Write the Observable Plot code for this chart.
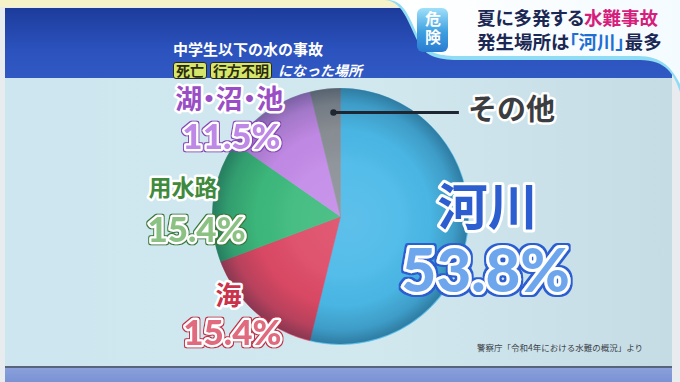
<!DOCTYPE html>
<html><head><meta charset="utf-8">
<script src="https://cdn.jsdelivr.net/npm/d3@7"></script>
<script src="https://cdn.jsdelivr.net/npm/@observablehq/plot@0.6"></script>
<style>
html,body{margin:0;padding:0;width:680px;height:382px;overflow:hidden;background:#eef0f2;font-family:"Noto Sans CJK JP","Noto Sans",sans-serif;}
#stage{position:relative;width:680px;height:382px;overflow:hidden;}
.abs{position:absolute;}
#topstrip{left:0;top:0;width:680px;height:7px;background:#f7f3c9;}
#frame{left:0;top:7px;width:680px;height:375px;background:#e9ecef;}
#band{left:5px;top:8px;width:667px;height:70px;background:linear-gradient(#1d3c9c,#2b52bd 60%,#3159c4);}
#panel{left:5px;top:78px;width:667px;height:288px;background:linear-gradient(90deg,#cde6ef,#d2e8ef 55%,#c6dce5);}
#botline{left:5px;top:366px;width:667px;height:2px;background:#56657c;}
#botband{left:5px;top:368px;width:667px;height:14px;background:linear-gradient(#8aa0dc,#7a92d4);}
#glow{left:378px;top:0;width:302px;height:92px;background:#8fdcf5;clip-path:path('M 6 0 C 24 0 30 22 40 42 C 48 58 62 60 84 60 L 262 60 C 288 60 296 74 302 92 L 302 0 Z');}
#banner{left:380px;top:0;width:300px;height:86px;background:linear-gradient(90deg,#ffffff,#f4fbff);clip-path:path('M 8 0 C 25 0 30 20 40 40 C 48 54 60 56 80 56 L 258 56 C 282 56 292 68 300 84 L 300 0 Z');}
#kiken{left:417px;top:8px;width:31px;height:44px;border-radius:6px;background:linear-gradient(#9fe0fa,#3d9fe0 55%,#2a7bd0);}
#kikentxt{left:417px;top:11px;width:31px;height:40px;color:#fff;font-weight:700;font-size:16px;line-height:31px;writing-mode:vertical-rl;text-orientation:upright;letter-spacing:2px;}
.ttl{left:477px;font-weight:700;font-size:18.5px;color:#1b2853;white-space:nowrap;font-feature-settings:"palt";}
#t1{top:4px;}
#t2{top:28px;}
.mag{color:#d61f7c;}
.blu{color:#1f6ed2;}
#sub1{left:173px;top:38px;font-weight:700;font-size:15px;color:#fff;white-space:nowrap;}
#sub2{left:173px;top:60px;font-size:14px;color:#fff;white-space:nowrap;display:flex;gap:3px;align-items:center;}
.tag{background:#d5e66a;border:1px solid #2a2a20;border-radius:3px;color:#2a2a10;font-weight:700;padding:0 2px;line-height:15px;}
.ital{font-style:italic;font-weight:700;margin-left:3px;}
#src{left:477px;top:341px;font-size:8.5px;color:#3a3f47;white-space:nowrap;}
#plotwrap{left:0;top:0;}
</style></head>
<body>
<div id="stage">
  <div class="abs" id="frame"></div>
  <div class="abs" id="topstrip"></div>
  <div class="abs" id="band"></div>
  <div class="abs" id="panel"></div>
  <div class="abs" id="botline"></div>
  <div class="abs" id="botband"></div>
  <div class="abs" id="glow"></div>
  <div class="abs" id="banner"></div>
  <div class="abs" id="kiken"></div>
  <div class="abs" id="kikentxt">危険</div>
  <div class="abs ttl" id="t1">夏に多発する<span class="mag">水難事故</span></div>
  <div class="abs ttl" id="t2">発生場所は<span class="blu">「河川」</span>最多</div>
  <div class="abs" id="sub1">中学生以下の水の事故</div>
  <div class="abs" id="sub2"><span class="tag">死亡</span><span class="tag">行方不明</span><span class="ital">になった場所</span></div>
  <div class="abs" id="src">警察庁「令和4年における水難の概況」より</div>
  <div class="abs" id="plotwrap"></div>
</div>
<script>
// ---- data ----
const categories = ["河川", "海", "用水路", "湖・沼・池", "その他"];
const shares = [53.8, 15.4, 15.4, 11.5, 3.8];
const percentLabels = ["53.8%", "15.4%", "15.4%", "11.5%", ""];

// ---- styles ----
const sliceColors = ["#4bb9e8", "#dd4a66", "#3dba7d", "#c38be8", "#8b9097"];
const nameColors = ["#2c5ed0", "#c9344c", "#3f8a3c", "#9a4ec6", "#3b3d40"];
const pctOuter = ["#2a5ed2", "#c22e48", "#367a34", "#8a42ba", ""];
const pctInner = ["#6ea6ee", "#e06a7e", "#8cc184", "#be88e6", ""];

// ---- layout (in pie-radius units) ----
const nameLayout = [
  {x: 1.15, y: 0.06, size: 50, palt: false},
  {x: -0.875, y: -0.625, size: 26, palt: false},
  {x: -1.23, y: 0.22, size: 23, palt: false},
  {x: -0.87, y: 0.905, size: 27, palt: true},
  {x: 1.335, y: 0.83, size: 29, palt: false}
];
const pctLayout = [
  {x: 1.135, y: -0.44, size: 60, white: 6, outer: 2},
  {x: -0.845, y: -0.915, size: 35, white: 4.5, outer: 1.4},
  {x: -1.125, y: -0.11, size: 35, white: 4.5, outer: 1.4},
  {x: -0.852, y: 0.617, size: 35, white: 4.5, outer: 1.4},
  null
];
const leader = {x1: -0.055, y1: 0.8125, x2: 0.925};

// ---- slices from d3.pie angles ----
const arcs = d3.pie().sort(null).value(d => d)(shares);
const pts = [];
arcs.forEach((a, i) => {
  const n = Math.max(2, Math.ceil((a.endAngle - a.startAngle) / (Math.PI / 180)));
  pts.push({cat: categories[i], x: 0, y: 0});
  for (let k = 0; k <= n; k++) {
    const t = a.startAngle + (a.endAngle - a.startAngle) * k / n;
    pts.push({cat: categories[i], x: Math.sin(t), y: Math.cos(t)});
  }
  pts.push({cat: categories[i], x: 0, y: 0});
});

const font = "Noto Sans CJK JP, Noto Sans, sans-serif";
const numFont = "Lato, Noto Sans CJK JP, sans-serif";

const shade = (index, scales) => {
  const xs = scales.x, ys = scales.y;
  const cx = xs(0), cy = ys(0), r = Math.abs(xs(1) - xs(0));
  const g = d3.create("svg:g");
  const defs = g.append("defs");
  const rg = defs.append("radialGradient")
    .attr("id", "pieShade").attr("gradientUnits", "userSpaceOnUse")
    .attr("cx", cx).attr("cy", cy).attr("r", r)
    .attr("fx", cx + r * 0.08).attr("fy", cy + r * 0.05);
  [[0, "#ffffff", 0.10], [0.45, "#ffffff", 0.05], [0.68, "#000000", 0.02], [0.88, "#001830", 0.17], [1, "#001830", 0.38]]
    .forEach(([o, c, op]) => rg.append("stop").attr("offset", o).attr("stop-color", c).attr("stop-opacity", op));
  pctOuter.forEach((c, i) => {
    if (!c) return;
    const f = defs.append("filter").attr("id", "ol" + i)
      .attr("x", "-20%").attr("y", "-30%").attr("width", "140%").attr("height", "160%");
    f.append("feMorphology").attr("in", "SourceAlpha").attr("operator", "dilate").attr("radius", pctLayout[i].outer).attr("result", "d");
    f.append("feFlood").attr("flood-color", c).attr("result", "c");
    f.append("feComposite").attr("in", "c").attr("in2", "d").attr("operator", "in").attr("result", "o");
    const m = f.append("feMerge");
    m.append("feMergeNode").attr("in", "o");
    m.append("feMergeNode").attr("in", "SourceGraphic");
  });
  g.append("circle").attr("cx", cx).attr("cy", cy).attr("r", r).attr("fill", "url(#pieShade)");
  return g.node();
};

const marks = [
  Plot.line(pts, {x: "x", y: "y", z: "cat", fill: "cat", stroke: "cat", strokeWidth: 0.6, curve: "linear"}),
  shade,
  Plot.link([leader], {x1: "x1", y1: "y1", x2: "x2", y2: "y1", stroke: "#1e2632", strokeWidth: 3}),
  Plot.dot([leader], {x: "x1", y: "y1", r: 3.2, fill: "#1e2632"})
];

categories.forEach((c, i) => {
  const nl = nameLayout[i];
  marks.push(Plot.text([c], {
    x: () => nl.x, y: () => nl.y, text: d => d,
    fontSize: nl.size, fontWeight: 700, fontFamily: font,
    fill: nameColors[i], stroke: "#ffffff", strokeWidth: i === 0 ? 6 : 5, paintOrder: "stroke",
    textAnchor: "middle", lineAnchor: "middle"
  }));
  const pl = pctLayout[i];
  if (pl) {
    marks.push(Plot.text([percentLabels[i]], {
      x: () => pl.x, y: () => pl.y, text: d => d,
      fontSize: pl.size, fontWeight: 900, fontFamily: numFont,
      fill: pctInner[i], stroke: "#ffffff", strokeWidth: pl.white, paintOrder: "stroke", strokeLinejoin: "round",
      textAnchor: "middle", lineAnchor: "middle"
    }));
  }
});

const chart = Plot.plot({
  width: 680, height: 382,
  marginLeft: 212, marginRight: 212, marginTop: 88, marginBottom: 38,
  x: {domain: [-1, 1], axis: null},
  y: {domain: [-1, 1], axis: null},
  color: {domain: categories, range: sliceColors},
  style: {background: "transparent", overflow: "visible"},
  marks
});
// attach outline filters to the percentage label groups (matched by their fill)
const groups = Array.from(chart.querySelectorAll("g"));
pctInner.forEach((c, i) => {
  if (!c) return;
  groups.filter(g => (g.getAttribute("fill") || "").toLowerCase() === c)
    .forEach(g => g.setAttribute("filter", `url(#ol${i})`));
});
// proportional punctuation for the name labels that use it
nameColors.forEach((c, i) => {
  if (!nameLayout[i].palt) return;
  groups.filter(g => (g.getAttribute("fill") || "").toLowerCase() === c)
    .forEach(g => g.style.fontFeatureSettings = '"palt"');
});
document.getElementById("plotwrap").appendChild(chart);
</script>
</body></html>
